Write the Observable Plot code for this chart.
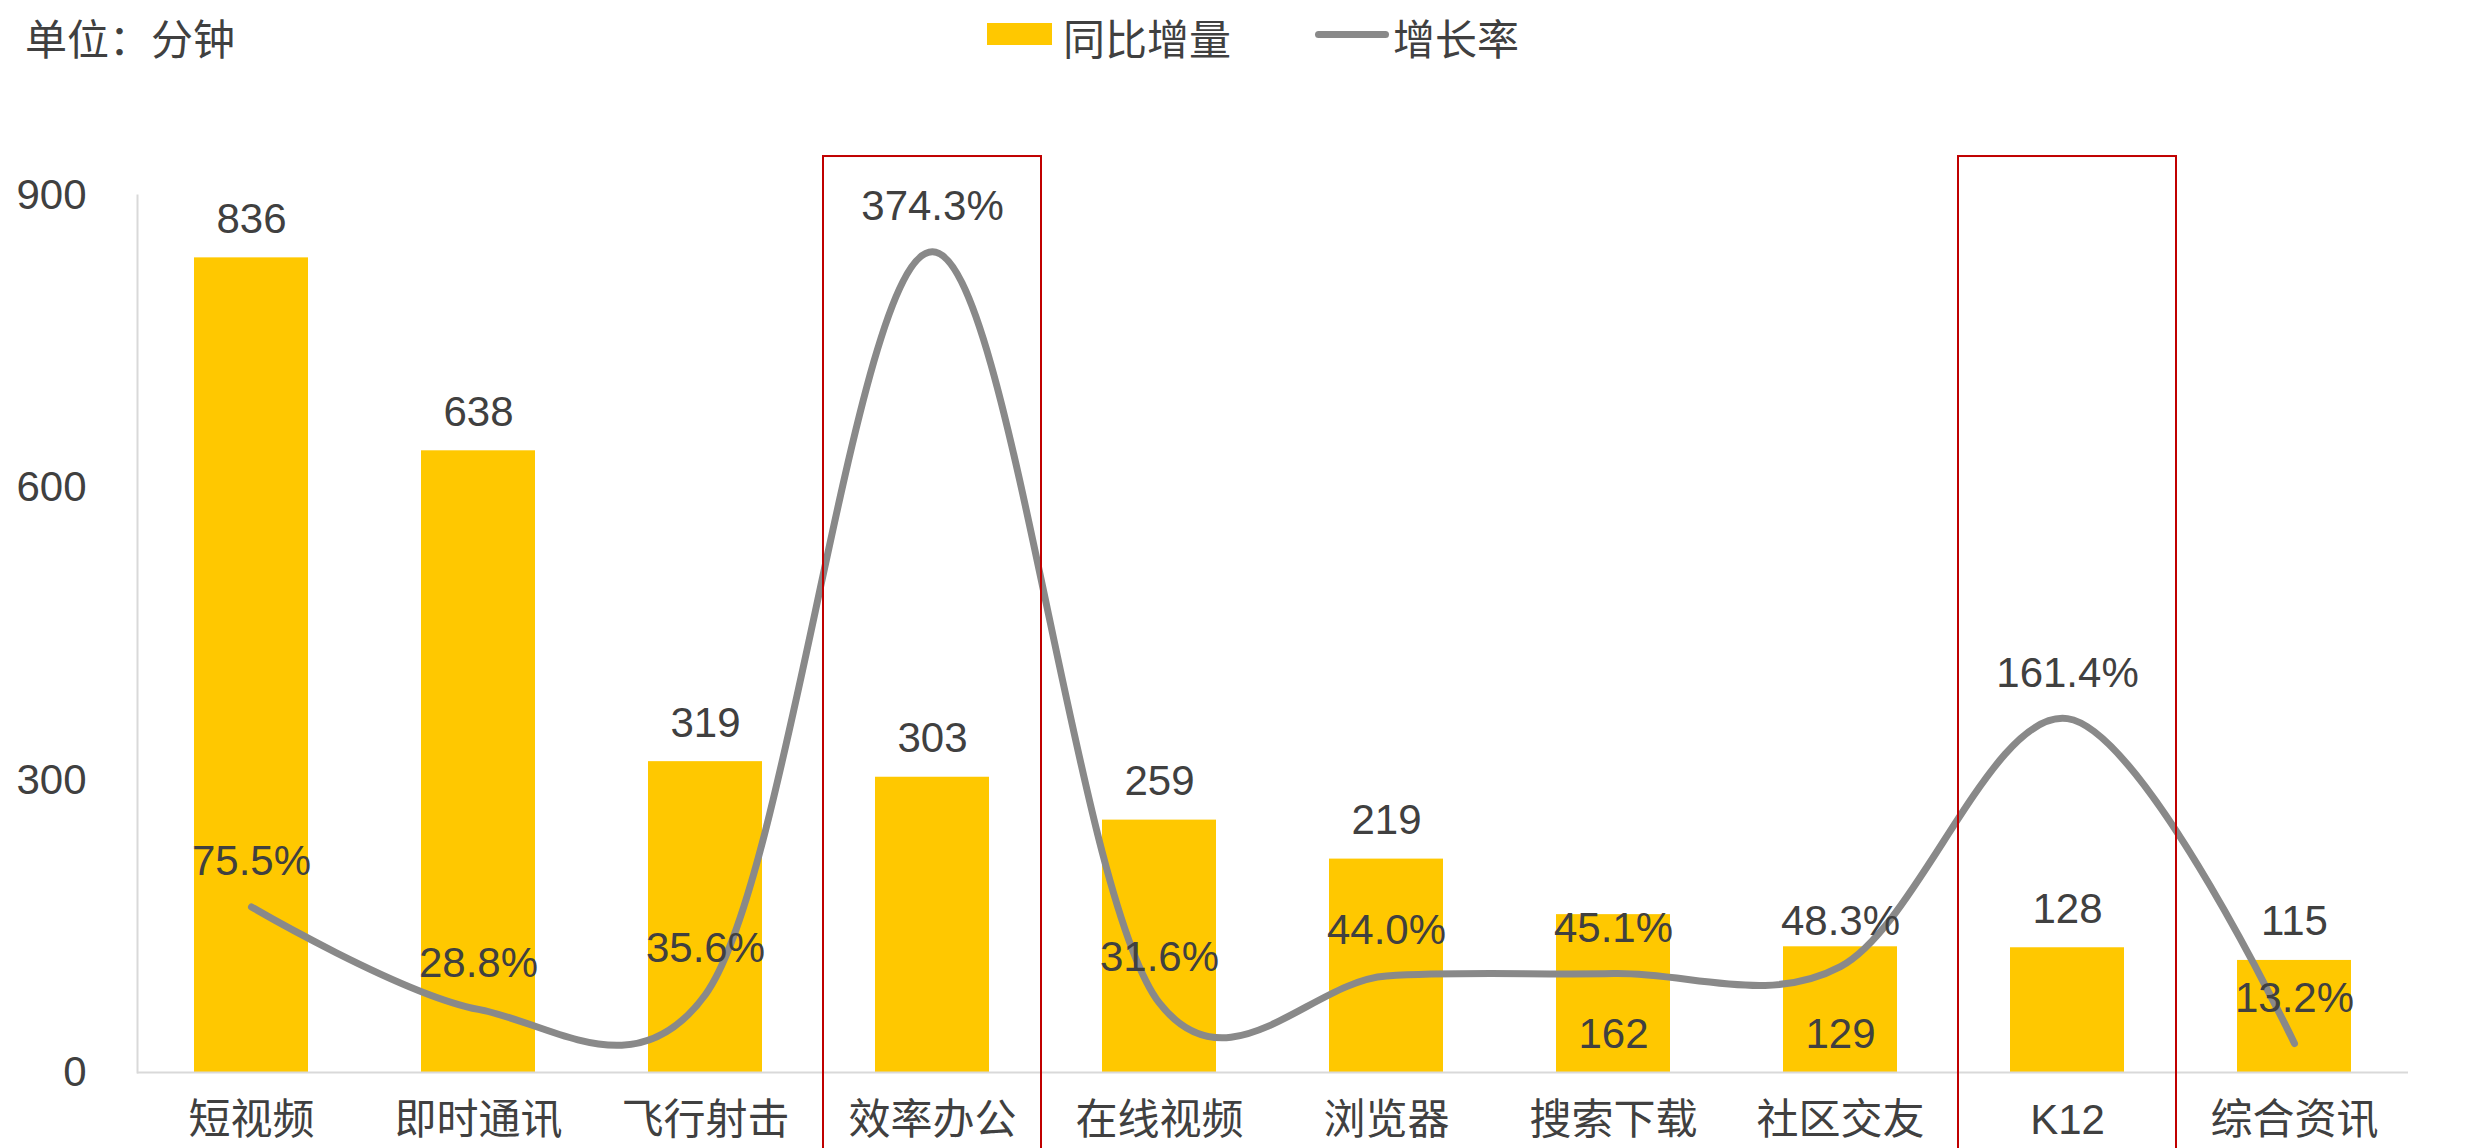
<!DOCTYPE html>
<html>
<head>
<meta charset="utf-8">
<script src="https://cdn.jsdelivr.net/npm/d3@7"></script>
<script src="https://cdn.jsdelivr.net/npm/@observablehq/plot@0.6"></script>
<style>
  html, body { margin: 0; padding: 0; background: #ffffff; }
  body { width: 2468px; height: 1148px; overflow: hidden;
         font-family: "Liberation Sans", "Noto Sans CJK SC", sans-serif; color: #404040; }
  #header { position: relative; width: 2468px; height: 100px; font-size: 42px; line-height: 42px; }
  #header .t { position: absolute; top: 20px; white-space: nowrap; }
  #unit { left: 25px; }
  #sw-bar { position: absolute; left: 987px; top: 23px; width: 65px; height: 22px; background: #FFC800; }
  #lab-bar { left: 1063px; }
  #sw-line { position: absolute; left: 1315px; top: 31px; width: 74px; height: 7px; border-radius: 4px; background: #898989; }
  #lab-line { left: 1393px; }
  #chart svg { display: block; }
</style>
</head>
<body>
<div id="header">
  <span class="t" id="unit"></span>
  <div id="sw-bar"></div><span class="t" id="lab-bar"></span>
  <div id="sw-line"></div><span class="t" id="lab-line"></span>
</div>
<div id="chart"></div>
<script>
// ---- data ----
const unitLabel = "单位：分钟";
const seriesBarName = "同比增量";
const seriesLineName = "增长率";
const categories = ["短视频", "即时通讯", "飞行射击", "效率办公", "在线视频", "浏览器", "搜索下载", "社区交友", "K12", "综合资讯"];
const increments = [836, 638, 319, 303, 259, 219, 162, 129, 128, 115];          // 同比增量 (分钟)
const growthRates = [75.5, 28.8, 35.6, 374.3, 31.6, 44.0, 45.1, 48.3, 161.4, 13.2]; // 增长率 (%)
const yTicks = [0, 300, 600, 900];
const highlighted = ["效率办公", "K12"];          // red outlined categories
const insideBaseLabels = ["搜索下载", "社区交友"]; // value label drawn inside the bar, near its base
const rateAxisMax = 400;                           // secondary axis 0–400% shares the 0–900 range
const minutesAxisMax = 900;

// ---- header (title + legend) ----
document.getElementById("unit").textContent = unitLabel;
document.getElementById("lab-bar").textContent = seriesBarName;
document.getElementById("lab-line").textContent = seriesLineName;

const rateScale = minutesAxisMax / rateAxisMax;
const data = categories.map((c, i) => ({category: c, inc: increments[i], rate: growthRates[i]}));

const chart = Plot.plot({
  width: 2468,
  height: 1048,
  marginTop: 95,
  marginBottom: 76,
  marginLeft: 137,
  marginRight: 60,
  style: {fontFamily: '"Liberation Sans", "Noto Sans CJK SC", sans-serif', fontSize: "42px", color: "#404040", background: "transparent"},
  x: {domain: categories, paddingInner: 0.5, paddingOuter: 0.25, label: null, tickSize: 0, tickPadding: 32},
  y: {domain: [0, minutesAxisMax], ticks: yTicks, label: null, tickSize: 0, tickPadding: 51},
  marks: [
    Plot.frame({anchor: "left", stroke: "#d9d9d9", strokeWidth: 2}),
    Plot.barY(data, {x: "category", y: "inc", fill: "#FFC800"}),
    Plot.ruleY([0], {stroke: "#d9d9d9", strokeWidth: 2}),
    Plot.line(data, {x: "category", y: d => d.rate * rateScale, stroke: "#898989", strokeWidth: 7, curve: d3.curveCatmullRom.alpha(0.15), strokeLinecap: "round"}),
    Plot.text(data.filter(d => !insideBaseLabels.includes(d.category)), {x: "category", y: "inc", text: d => String(d.inc), lineAnchor: "bottom", dy: -25, fill: "#404040"}),
    Plot.text(data.filter(d => insideBaseLabels.includes(d.category)), {x: "category", y: () => 0, text: d => String(d.inc), lineAnchor: "bottom", dy: -25, fill: "#404040"}),
    Plot.text(data, {x: "category", y: d => d.rate * rateScale, text: d => d.rate.toFixed(1) + "%", lineAnchor: "bottom", dy: -32, fill: "#404040"}),
    Plot.barY(highlighted, {x: d => d, y1: () => -120, y2: () => 940, fill: "none", stroke: "#c00000", strokeWidth: 2, insetLeft: -52, insetRight: -52})
  ]
});
document.getElementById("chart").appendChild(chart);
</script>
</body>
</html>
